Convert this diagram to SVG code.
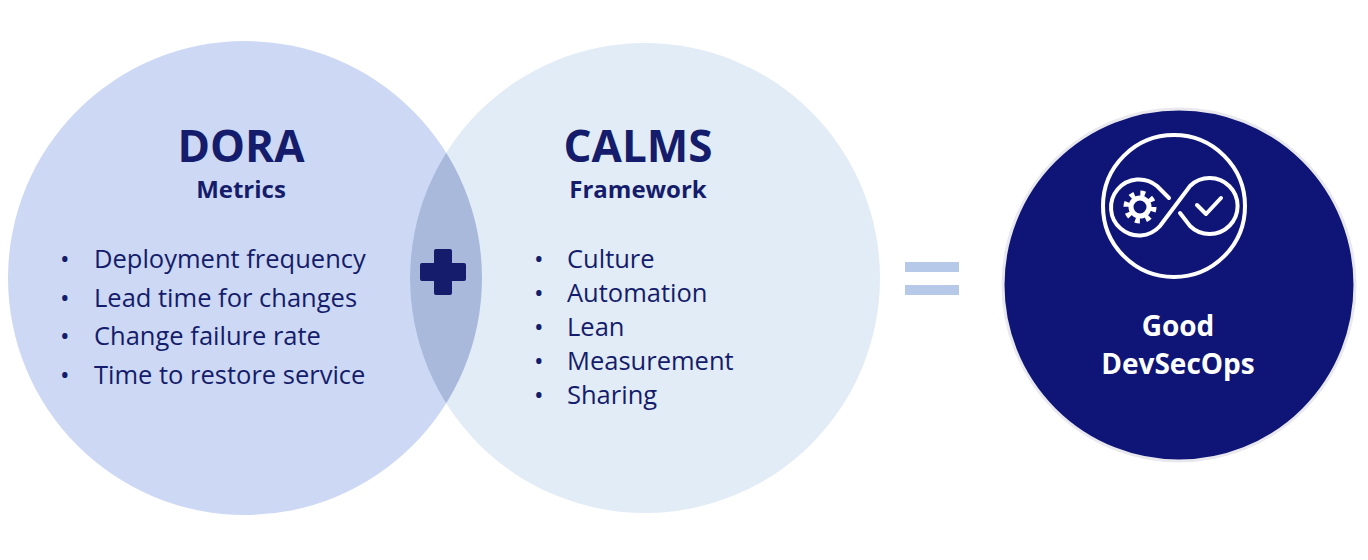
<svg xmlns="http://www.w3.org/2000/svg" width="1368" height="560" viewBox="0 0 1368 560">
<style>
.t{font-family:"Open Sans","Liberation Sans",sans-serif;fill:#141c6b}
.h{font-size:44px;font-weight:700}
.s{font-size:24px;font-weight:700}
.b{font-size:25.5px}
.w{font-family:"Open Sans","Liberation Sans",sans-serif;fill:#fff;font-size:28px;font-weight:700}
</style>
<defs>
<clipPath id="cl"><circle cx="245" cy="278" r="237"/></clipPath>
</defs>
<rect width="1368" height="560" fill="#fff"/>
<g id="dora"><circle cx="245" cy="278" r="237" fill="#cdd9f4"/></g>
<g id="calms"><circle cx="645" cy="278" r="235" fill="#e2ecf7"/></g>
<g id="lens"><circle cx="645" cy="278" r="235" fill="#a9b9dc" clip-path="url(#cl)"/>
<path d="M436 251h14v14h14v14h-14v14h-14v-14h-14v-14h14z" fill="#141c6b" stroke="#141c6b" stroke-width="4" stroke-linejoin="round"/></g>
<g id="dora-text">
<text class="t h" x="241" y="162" text-anchor="middle">DORA</text>
<text class="t s" x="241" y="198" text-anchor="middle">Metrics</text>
<text class="t b" x="60" y="268">•</text><text class="t b" x="94" y="268">Deployment frequency</text>
<text class="t b" x="60" y="307">•</text><text class="t b" x="94" y="307">Lead time for changes</text>
<text class="t b" x="60" y="345">•</text><text class="t b" x="94" y="345">Change failure rate</text>
<text class="t b" x="60" y="384">•</text><text class="t b" x="94" y="384">Time to restore service</text>
</g>
<g id="calms-text">
<text class="t h" x="638" y="162" text-anchor="middle">CALMS</text>
<text class="t s" x="638" y="198" text-anchor="middle">Framework</text>
<text class="t b" x="534" y="268">•</text><text class="t b" x="567" y="268">Culture</text>
<text class="t b" x="534" y="302">•</text><text class="t b" x="567" y="302">Automation</text>
<text class="t b" x="534" y="336">•</text><text class="t b" x="567" y="336">Lean</text>
<text class="t b" x="534" y="370">•</text><text class="t b" x="567" y="370">Measurement</text>
<text class="t b" x="534" y="404">•</text><text class="t b" x="567" y="404">Sharing</text>
</g>
<g id="equals"><rect x="905" y="262" width="54" height="10" fill="#b7c9e8"/><rect x="905" y="285" width="54" height="10" fill="#b7c9e8"/></g>
<g id="result">
<circle cx="1179" cy="285" r="176" fill="#0f1577" stroke="#e8e8ee" stroke-width="3"/>
<circle cx="1174" cy="206" r="71" fill="none" stroke="#fff" stroke-width="4"/>
<path d="M1157 186 A28 28 0 1 0 1160 226 L1190 186 A28 28 0 1 1 1190 226 L1180 213 M1169 198 L1157 186" fill="none" stroke="#fff" stroke-width="4" stroke-linecap="round"/>
<circle cx="1140" cy="207" r="13" fill="none" stroke="#fff" stroke-width="7" stroke-dasharray="4.5 5.7"/>
<circle cx="1140" cy="207" r="9" fill="none" stroke="#fff" stroke-width="5"/>
<path d="M1197 205l9 9 15-16" fill="none" stroke="#fff" stroke-width="4" stroke-linecap="round" stroke-linejoin="round"/>
<text class="w" x="1178" y="336" text-anchor="middle">Good</text>
<text class="w" x="1178" y="374" text-anchor="middle">DevSecOps</text>
</g>
</svg>
